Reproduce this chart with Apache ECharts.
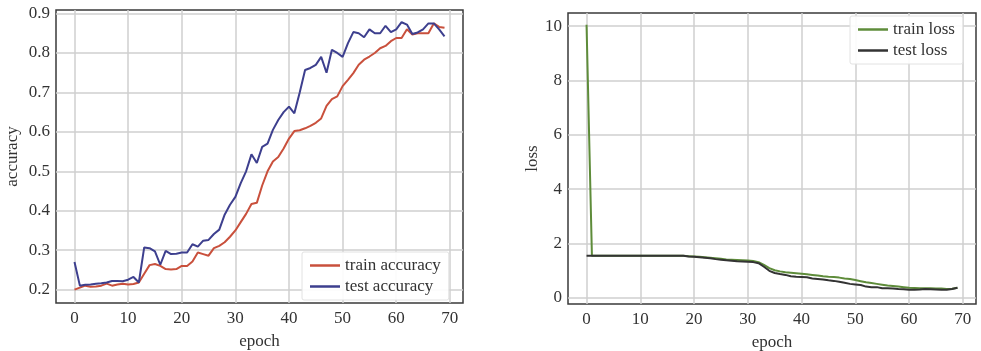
<!DOCTYPE html>
<html>
<head>
<meta charset="utf-8">
<script src="https://cdn.jsdelivr.net/npm/echarts/dist/echarts.min.js"></script>
<style>
    html, body { margin: 0; padding: 0; background: #fff; }
    #chart { width: 981px; height: 351px; }
</style>
</head>
<body>
<div id="chart"></div>
<script>
'use strict';

// 横轴 epoch
var epochs = [];
for (var e = 0; e < 70; e++) { epochs.push(e); }

var xTicks = [0, 10, 20, 30, 40, 50, 60, 70];
var accTicks = [0.2, 0.3, 0.4, 0.5, 0.6, 0.7, 0.8, 0.9];
var lossTicks = [0, 2, 4, 6, 8, 10];

// 准确率
var trainAcc = [
    0.200, 0.205, 0.210, 0.207, 0.208, 0.210, 0.215, 0.210, 0.213, 0.215,
    0.213, 0.214, 0.218, 0.240, 0.262, 0.265, 0.260, 0.252, 0.251, 0.252,
    0.260, 0.260, 0.271, 0.294, 0.290, 0.286, 0.305, 0.311, 0.320, 0.334,
    0.350, 0.371, 0.392, 0.417, 0.420, 0.464, 0.500, 0.525, 0.536, 0.558,
    0.583, 0.602, 0.604, 0.609, 0.615, 0.623, 0.634, 0.666, 0.683, 0.690,
    0.716, 0.732, 0.749, 0.770, 0.783, 0.791, 0.800, 0.812, 0.818, 0.830,
    0.838, 0.838, 0.860, 0.847, 0.850, 0.850, 0.850, 0.875, 0.866, 0.864
];
var testAcc = [
    0.270, 0.210, 0.212, 0.213, 0.215, 0.216, 0.218, 0.222, 0.222, 0.221,
    0.225, 0.232, 0.218, 0.307, 0.305, 0.297, 0.263, 0.298, 0.290, 0.291,
    0.294, 0.294, 0.315, 0.309, 0.324, 0.326, 0.341, 0.352, 0.390, 0.415,
    0.435, 0.470, 0.500, 0.543, 0.521, 0.562, 0.570, 0.605, 0.630, 0.650,
    0.664, 0.647, 0.700, 0.757, 0.762, 0.770, 0.790, 0.750, 0.808, 0.800,
    0.790, 0.825, 0.853, 0.850, 0.840, 0.860, 0.850, 0.850, 0.869, 0.853,
    0.860, 0.878, 0.872, 0.848, 0.852, 0.860, 0.875, 0.875, 0.860, 0.842
];

// 损失
var trainLoss = [
    10.05, 1.55, 1.55, 1.55, 1.55, 1.55, 1.55, 1.55, 1.55, 1.55,
    1.55, 1.55, 1.55, 1.55, 1.55, 1.55, 1.55, 1.55, 1.55, 1.54,
    1.53, 1.52, 1.50, 1.48, 1.46, 1.44, 1.42, 1.41, 1.40, 1.39,
    1.38, 1.36, 1.32, 1.22, 1.10, 1.02, 0.98, 0.95, 0.93, 0.91,
    0.89, 0.87, 0.85, 0.83, 0.80, 0.78, 0.77, 0.75, 0.72, 0.70,
    0.66, 0.62, 0.58, 0.55, 0.52, 0.49, 0.46, 0.44, 0.42, 0.40,
    0.38, 0.37, 0.36, 0.36, 0.36, 0.35, 0.35, 0.33, 0.34, 0.38
];
var testLoss = [
    1.55, 1.55, 1.55, 1.55, 1.55, 1.55, 1.55, 1.55, 1.55, 1.55,
    1.55, 1.55, 1.55, 1.55, 1.55, 1.55, 1.55, 1.55, 1.55, 1.53,
    1.52, 1.50, 1.48, 1.46, 1.43, 1.41, 1.39, 1.37, 1.35, 1.34,
    1.33, 1.32, 1.28, 1.15, 1.00, 0.92, 0.88, 0.85, 0.80, 0.78,
    0.77, 0.76, 0.72, 0.70, 0.68, 0.65, 0.63, 0.60, 0.56, 0.52,
    0.50, 0.48, 0.42, 0.40, 0.40, 0.36, 0.36, 0.35, 0.33, 0.32,
    0.30, 0.30, 0.31, 0.33, 0.32, 0.31, 0.30, 0.30, 0.33, 0.38
];

function pairs(ys) {
    return epochs.map(function (x, i) { return [x, ys[i]]; });
}

var font = 'Liberation Serif';
var textColor = '#333';
var fontSize = 17;

function xAxisDef(gridIndex) {
    return {
        type: 'value',
        gridIndex: gridIndex,
        min: -3.45,
        max: 72.45,
        name: 'epoch',
        nameLocation: 'middle',
        nameGap: 30,
        nameTextStyle: { fontFamily: font, fontSize: fontSize, color: textColor },
        axisLine: { show: false },
        axisTick: { show: false, customValues: xTicks },
        axisLabel: {
            customValues: xTicks,
            margin: 7,
            fontFamily: font, fontSize: fontSize, color: textColor
        },
        splitLine: { show: true, lineStyle: { color: '#cfcfcf', width: 1.5 } }
    };
}

function yAxisDef(gridIndex, name, min, max, ticks, nameGap, fmt) {
    return {
        type: 'value',
        gridIndex: gridIndex,
        min: min,
        max: max,
        name: name,
        nameLocation: 'middle',
        nameGap: nameGap,
        nameTextStyle: { fontFamily: font, fontSize: fontSize, color: textColor },
        axisLine: { show: false },
        axisTick: { show: false, customValues: ticks },
        axisLabel: {
            customValues: ticks,
            margin: 6,
            formatter: fmt,
            fontFamily: font, fontSize: fontSize, color: textColor
        },
        splitLine: { show: true, lineStyle: { color: '#cfcfcf', width: 1.5 } }
    };
}

function lineSeries(name, xi, data, color) {
    return {
        name: name,
        type: 'line',
        xAxisIndex: xi,
        yAxisIndex: xi,
        symbol: 'none',
        data: pairs(data),
        lineStyle: { color: color, width: 2 },
        itemStyle: { color: color }
    };
}

var legendBase = {
    orient: 'vertical',
    icon: 'rect',
    itemWidth: 30,
    itemHeight: 2.5,
    itemGap: 4,
    backgroundColor: 'rgba(255,255,255,0.9)',
    borderColor: '#e2e2e2',
    borderWidth: 1,
    borderRadius: 2,
    padding: [5, 8, 5, 8],
    textStyle: { fontFamily: font, fontSize: fontSize, color: textColor }
};

var option = {
    backgroundColor: '#fff',
    animation: false,
    grid: [
        { left: 56, top: 10, width: 407, height: 293, outerBoundsMode: 'none', show: true, borderColor: '#3a3a3a', borderWidth: 1.5, backgroundColor: 'transparent' },
        { left: 568, top: 13, width: 408, height: 291, outerBoundsMode: 'none', show: true, borderColor: '#3a3a3a', borderWidth: 1.5, backgroundColor: 'transparent' }
    ],
    xAxis: [xAxisDef(0), xAxisDef(1)],
    yAxis: [
        yAxisDef(0, 'accuracy', 0.166, 0.909, accTicks, 35, function (v) { return v.toFixed(1); }),
        yAxisDef(1, 'loss', -0.22, 10.48, lossTicks, 25, function (v) { return String(Math.round(v)); })
    ],
    legend: [
        Object.assign({}, legendBase, {
            data: ['train accuracy', 'test accuracy'],
            left: 302, top: 252
        }),
        Object.assign({}, legendBase, {
            data: ['train loss', 'test loss'],
            left: 850, top: 16
        })
    ],
    series: [
        lineSeries('train accuracy', 0, trainAcc, '#c9503c'),
        lineSeries('test accuracy', 0, testAcc, '#3d3f8e'),
        lineSeries('train loss', 1, trainLoss, '#5e8c3a'),
        lineSeries('test loss', 1, testLoss, '#333333')
    ]
};

var mychart = echarts.init(document.getElementById('chart'));
mychart.setOption(option);
</script>
</body>
</html>
